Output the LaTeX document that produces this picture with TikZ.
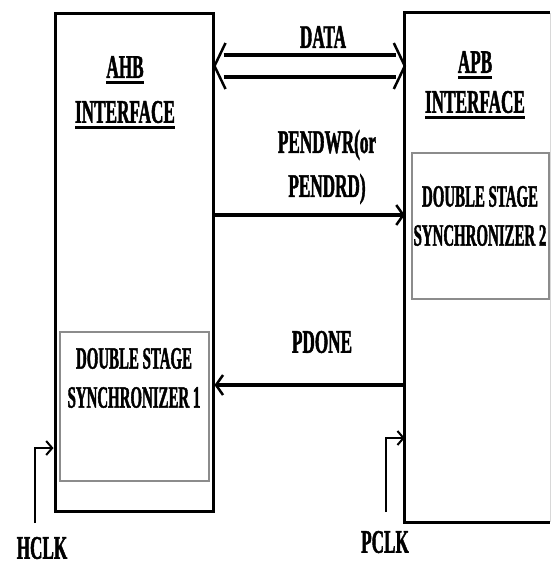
\documentclass[tikz,border=0pt]{standalone}
\usepackage{fontspec}
\newfontfamily\diagfont{Liberation Serif Bold}[FakeStretch=0.52, FakeBold=1.3]
\newfontfamily\syncfont{Liberation Serif Bold}[FakeStretch=0.48, FakeBold=1.3]
\usepackage{tikz}
\usetikzlibrary{arrows.meta}
\definecolor{syncgray}{HTML}{8c8c8c}
\definecolor{edgegray}{HTML}{d8d8d8}

\tikzset{
  block/.style={draw=black, line width=3pt, inner sep=0pt},
  syncblock/.style={draw=syncgray, line width=1.2pt, inner sep=0pt},
  lbl/.style={font=\diagfont\fontsize{33}{44}\selectfont, align=center, inner sep=0pt},
  synclbl/.style={font=\syncfont\fontsize{31}{39}\selectfont, align=center, inner sep=0pt},
  sigline/.style={line width=4pt, -{Straight Barb[length=7pt, width=20pt, line width=2.5pt]}},
  clkline/.style={line width=2.5pt, -{Straight Barb[length=6pt, width=14pt, line width=2pt]}},
  busline/.style={line width=4pt},
  buschev/.style={line width=2.5pt, line join=miter}
}
\newcommand{\thickul}[1]{\leavevmode\vtop{\hbox{#1}\kern3pt\hrule height 3pt}}

\begin{document}
\begin{tikzpicture}[x=1pt, y=-1pt]
    \useasboundingbox (0,0) rectangle (551,566);

    % AHB side
    \node[block, minimum width=158pt, minimum height=498pt] (ahb) at (134,262) {};
    \node[lbl] (ahbname) at (125,70) {\thickul{AHB}};
    \node[lbl] (ahbif) at (125,115) {\thickul{INTERFACE}};
    \node[syncblock, minimum width=149pt, minimum height=149pt] (sync1) at (134.5,406.5) {};
    \node[synclbl] (sync1txt) at (134,378) {DOUBLE STAGE\\SYNCHRONIZER 1};

    % APB side (right edge runs off the page)
    \node[inner sep=0pt, minimum width=145pt, minimum height=509pt] (apb) at (477.5,267.5) {};
    \draw[line width=3pt] (apb.north east) -- (apb.north west) -- (apb.south west) -- (apb.south east);
    \draw[edgegray, line width=1pt] (apb.north east) -- (apb.south east);
    \node[lbl] (apbname) at (475,65) {\thickul{APB}};
    \node[lbl] (apbif) at (475,105) {\thickul{INTERFACE}};
    \node[syncblock, minimum width=137pt, minimum height=146pt] (sync2) at (480.5,226) {};
    \node[synclbl] (sync2txt) at (480,216) {DOUBLE STAGE\\SYNCHRONIZER 2};

    % DATA bus, two lines with open heads
    \coordinate (busL) at (ahb.east |- 0,66);
    \coordinate (busR) at (apb.west |- 0,66);
    \draw[busline] ([xshift=9pt,yshift=11pt]busL) -- ([xshift=-9pt,yshift=11pt]busR);
    \draw[busline] ([xshift=9pt,yshift=-11pt]busL) -- ([xshift=-9pt,yshift=-11pt]busR);
    \draw[buschev] ([xshift=11pt,yshift=23pt]busL) -- (busL) -- ([xshift=11pt,yshift=-23pt]busL);
    \draw[buschev] ([xshift=-11pt,yshift=23pt]busR) -- (busR) -- ([xshift=-11pt,yshift=-23pt]busR);
    \node[lbl] (data) at (323,37) {DATA};

    \draw[sigline] (ahb.east |- 0,215) -- (apb.west |- 0,215);
    \node[lbl] (pend) at (327,167) {PENDWR(or\\PENDRD)};

    \draw[sigline] (apb.west |- 0,385) -- (ahb.east |- 0,385);
    \node[lbl] (pdone) at (322,342) {PDONE};

    % clocks
    \coordinate (hclkin) at (35,523);
    \draw[clkline] (hclkin) |- (ahb.west |- 0,448);
    \node[lbl] (hclk) at (42,548) {HCLK};

    \coordinate (pclkin) at (386,512);
    \draw[clkline] (pclkin) |- (apb.west |- 0,438);
    \node[lbl] (pclk) at (385,542) {PCLK};
\end{tikzpicture}
\end{document}
